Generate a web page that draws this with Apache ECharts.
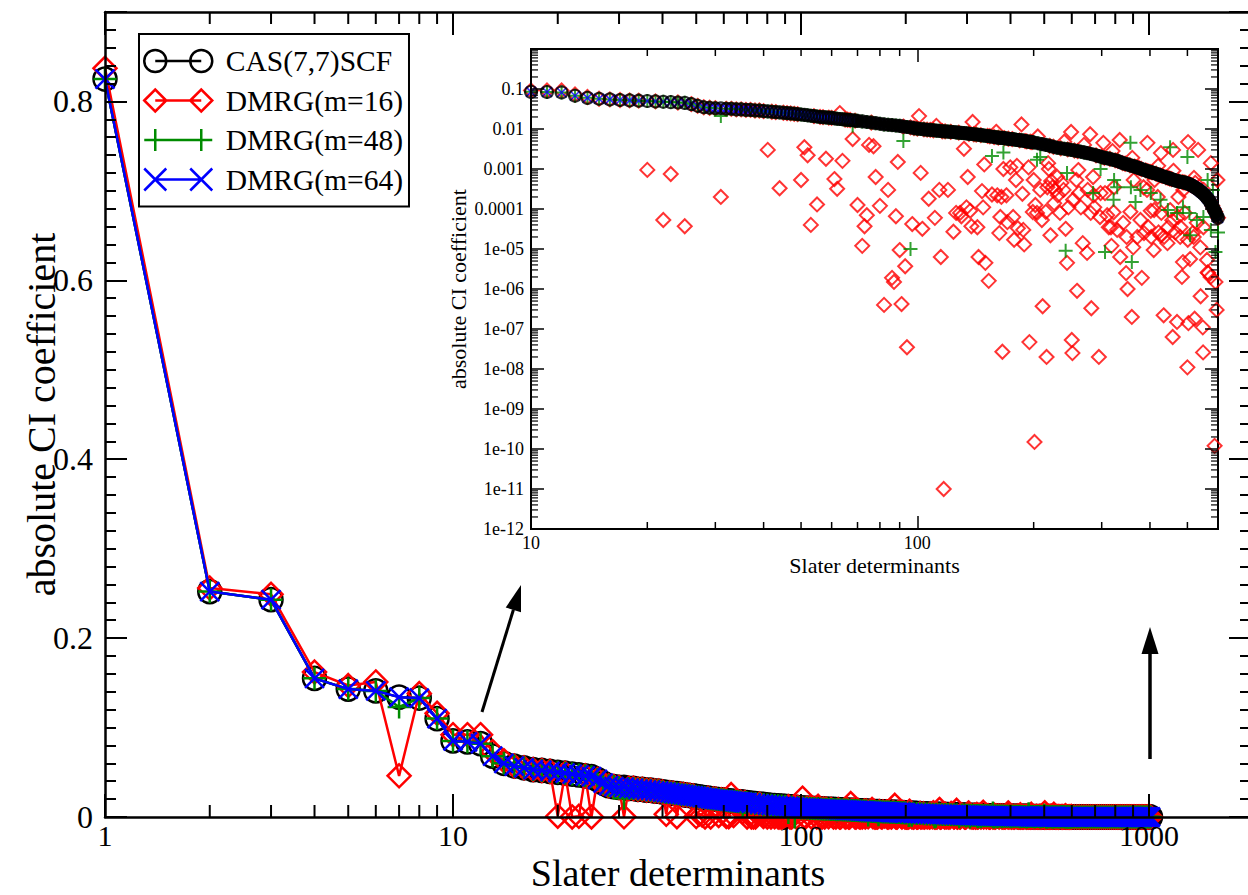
<!DOCTYPE html>
<html><head><meta charset="utf-8">
<script src="https://cdn.jsdelivr.net/npm/echarts@6.0.0/dist/echarts.min.js"></script>
<style>html,body{margin:0;padding:0;background:#fff;}#chart{width:1248px;height:895px;}</style>
</head><body><div id="chart"></div>
<script>
// ---------------- data ----------------
const casX = [1,2,3,4,5,6,7,8,9,10,11,12,13,14,15,16,17,18,19,20,21,22,23,24,25,26,27,28,29,30,31,32,33,34,35,36,37,38,39,40,
41,42,43,44,45,46,47,48,49,50,51,52,53,54,55,56,57,58,59,60,61,62,63,64,65,66,67,68,69,70,
72,74,76,78,80,82,84,86,88,90,92,94,96,98,100,
102,104,106,108,110,112,114,116,118,120,122,124,126,128,130,132,134,136,138,140,
142,144,146,148,150,152,154,156,158,160,162,164,166,168,170,172,174,176,178,180,
182,184,186,188,190,192,194,196,198,200,
205,210,215,220,225,230,235,240,245,250,255,260,265,270,275,280,285,290,295,300,
305,310,315,320,325,330,335,340,345,350,355,360,365,370,375,380,385,390,395,400,
405,410,415,420,425,430,435,440,445,450,455,460,465,470,475,480,485,490,495,500,
505,510,515,520,525,530,535,540,545,550,555,560,565,570,575,580,585,590,595,600,
610,620,630,640,650,660,670,680,690,700,710,720,730,740,750,760,770,780,790,800,
810,820,830,840,850,860,870,880,890,900,910,920,930,940,950,960,970,980,990,1000,1010];
const casY = [0.825,0.252,0.243,0.155,0.143,0.141,0.134,0.133,0.110,0.085,0.084,0.082,0.068,0.060,0.057,0.055,0.053,0.052,0.051,0.050,
0.049,0.048,0.047,0.046,0.045,0.042,0.038,0.035,0.034,0.033,0.033,0.032,0.032,0.031,0.031,0.030,0.030,0.029,0.029,0.028,
0.0275,0.027,0.0265,0.026,0.0255,0.025,0.0245,0.024,0.0235,0.023,0.0225,0.022,0.0215,0.021,0.0205,0.020,0.0198,0.0195,0.0192,0.019,
0.0185,0.018,0.0178,0.0175,0.0172,0.017,0.0168,0.0165,0.0162,0.016,
0.0155,0.015,0.0145,0.014,0.0135,0.013,0.0128,0.0125,0.0122,0.012,0.0115,0.0112,0.011,0.0105,0.0102,
0.0100,0.0098,0.0096,0.0095,0.0093,0.0091,0.0090,0.0088,0.0087,0.0086,0.0085,0.0084,0.0082,0.0081,0.0080,0.0079,0.0078,0.0076,0.0075,0.0074,
0.0073,0.0072,0.0070,0.0069,0.0068,0.0067,0.0066,0.0064,0.0063,0.0062,0.0061,0.0060,0.0060,0.0059,0.0058,0.0057,0.0056,0.0056,0.0055,0.0054,
0.0053,0.0052,0.0052,0.0051,0.0050,0.0049,0.0048,0.0048,0.0047,0.0046,
0.0044,0.0042,0.0040,0.0038,0.0036,0.0034,0.0033,0.0032,0.0031,0.0030,
0.0029,0.0028,0.0027,0.0026,0.0025,0.0024,0.0023,0.0022,0.0021,0.0020,
0.0019,0.00185,0.0018,0.0017,0.00165,0.0016,0.0015,0.0014,0.00135,0.0013,
0.00124,0.0012,0.00115,0.0011,0.00106,0.0010,0.00096,0.00092,0.00088,0.00085,
0.00082,0.00079,0.00076,0.00073,0.00070,0.00067,0.00064,0.00062,0.00060,0.00058,
0.00056,0.00054,0.00052,0.00050,0.00049,0.00048,0.00047,0.00046,0.00045,0.00044,
0.00042,0.00040,0.00038,0.00036,0.00034,0.00032,0.00030,0.00028,0.00026,0.00024,
0.00022,0.00020,0.00018,0.00016,0.00014,0.00012,0.00010,0.000085,0.000072,0.00006,
5.2e-5,4.6e-5,4.1e-5,3.7e-5,3.3e-5,3.0e-5,2.7e-5,2.4e-5,2.2e-5,2.0e-5,
1.8e-5,1.65e-5,1.5e-5,1.35e-5,1.2e-5,1.1e-5,1.0e-5,9e-6,8.2e-6,7.5e-6,
6.8e-6,6.2e-6,5.6e-6,5.1e-6,4.6e-6,4.2e-6,3.8e-6,3.4e-6,3.1e-6,2.8e-6,
2.5e-6,2.2e-6,2.0e-6,1.8e-6,1.6e-6,1.4e-6,1.2e-6,1.0e-6,8e-7,6e-7,4e-7];

// DMRG(m=16): points that differ from CAS [determinant, |coefficient|]
const dmrg16Dev = [[1,0.837],[2,0.256],[3,0.249],[4,0.162],[5,0.147],[6,0.151],[7,0.046],[8,0.138],[9,0.116],[10,0.092],[11,0.092],[12,0.092],[13,0.073],[14,0.063],
[20,9.5e-4],[22,5.3e-5],[23,7.5e-4],[25,3.7e-5],[31,2.0e-4],
[41,3.0e-3],[44,3.3e-4],[50,5.3e-4],[51,3.5e-3],[52,2.2e-3],[53,4.0e-5],[55,1.3e-4],[58,1.8e-3],[61,5.6e-4],[62,3.2e-4],[63,0.025],[64,1.6e-3],[68,5.6e-3],[70,1.26e-4],[72,1.2e-5],[73,3.7e-5],[74,7.0e-5],[75,4.0e-3],[77,3.7e-3],[78,6.3e-4],[80,1.2e-4],[82,4.0e-7],[84,3.0e-4],[86,1.9e-6],[87,1.5e-6],[88,6.6e-5],[89,1.5e-3],[90,9.4e-6],[91,4.2e-7],[93,3.7e-6],[94,3.5e-8],[97,4.2e-5],
[101,0.021],[102,8.0e-4],[103,3.2e-5],[107,1.8e-4],[111,6.0e-5],[112,0.012],[114,3.0e-4],[115,6.3e-6],[117,1.0e-11],[120,3.0e-4],[124,2.7e-5],[126,8.0e-5],[129,8.0e-5],[130,6.6e-5],[132,3.2e-3],[134,1.1e-4],[135,6.3e-4],[137,9.0e-5],[138,3.7e-5],[139,0.015],[143,3.5e-5],[144,6.3e-6],[147,2.8e-4],[148,1.1e-4],[149,1.3e-3],[150,4.5e-6],[153,1.6e-6],[156,2.3e-4],[160,0.0085],[161,2.2e-4],[163,2.5e-5],[164,6.3e-5],[165,2.0e-4],[166,2.7e-8],[167,1.0e-3],[170,2.2e-4],[171,4.7e-5],[174,1.1e-3],[177,6.3e-5],[178,1.7e-5],[180,5.3e-4],[181,1.2e-3],[182,3.3e-5],[186,0.013],[187,2.4e-4],[188,3.0e-5],[189,1.3e-5],[194,1.1e-3],[195,4.7e-8],[199,8.4e-5],
[200,5.3e-4],[201,1.5e-10],[202,1.26e-4],[204,8.0e-5],[205,0.0065],[208,3.0e-4],[210,5.3e-5],[211,3.7e-7],[215,8.5e-5],[216,2.0e-8],[217,3.5e-4],[218,1.4e-3],[219,1.0e-3],[221,2.2e-5],[222,5.0e-4],[224,3.5e-4],[226,1.4e-4],[227,3.0e-4],[230,6.3e-4],[231,2.2e-4],[234,8.0e-5],[236,4.5e-4],[239,3.0e-4],[240,0.0048],[242,3.2e-5],[244,4.5e-6],[246,1.1e-4],[250,8.4e-3],[251,5.3e-8],[252,2.5e-8],[253,1.7e-4],[258,5.3e-4],[259,9.0e-7],[261,9.4e-4],[262,2.5e-4],[265,1.1e-4],[268,1.4e-5],[270,0.004],[275,8.0e-6],[276,3.0e-4],[280,7.4e-3],[281,8.0e-5],[282,3.3e-7],[285,6.3e-4],[286,2.2e-4],[287,1.1e-4],[295,2.0e-8],[297,6.3e-5],[298,2.5e-4],
[303,4.5e-3],[306,2.5e-4],[310,7.0e-5],[313,3.5e-5],[317,3.5e-5],[318,1.2e-5],[320,0.0028],[322,8.3e-5],[323,3.5e-4],[329,3.0e-5],[334,5.3e-3],[335,6.3e-6],[341,4.5e-5],[347,2.5e-6],[348,2.0e-5],[350,1.0e-6],[356,8.5e-5],[359,2.0e-7],[360,0.0019],[362,1.1e-5],[363,5.3e-4],[371,2.0e-5],[378,5.3e-5],[381,1.9e-6],[385,3.5e-4],[386,2.5e-5],[393,3.0e-4],[394,4.5e-3],[396,3.5e-5],
[402,9.0e-5],[403,2.0e-5],[409,9.4e-6],[410,9.4e-5],[411,5.3e-4],[419,2.0e-4],[420,0.0012],[421,2.6e-5],[426,2.2e-5],[427,2.5e-3],[428,8.0e-5],[434,2.2e-7],[435,2.0e-5],[444,1.4e-5],[446,3.5e-5],[451,9.4e-5],[457,5.2e-5],[458,6.3e-8],[459,3.0e-3],[460,0.0009],[465,2.6e-5],[470,1.5e-7],[473,6.3e-5],[474,2.0e-4],[479,2.0e-5],[480,3.5e-5],[484,2.0e-6],[487,4.7e-6],[488,3.0e-4],[492,8.0e-5],
[500,1.1e-8],[501,1.7e-5],[502,4.7e-3],[503,1.4e-7],[508,5.6e-6],[516,2.5e-5],[519,2.0e-5],[520,0.0006],[522,1.8e-7],[524,4.5e-4],[529,4.5e-5],[533,3.0e-3],[540,1.1e-5],[541,6.6e-7],[548,1.1e-7],[549,2.6e-8],[550,3.5e-5],[551,3.0e-4],[562,5.3e-6],[564,2.6e-6],[566,2.5e-6],[574,2.0e-6],[575,1.4e-3],[588,1.2e-10],[591,1.5e-6],[595,3.0e-7],[598,5.3e-4]];

// DMRG(m=48): points that differ from CAS
const dmrg48Dev = [[7,0.123],[31,0.021],[68,0.012],[92,5.0e-3],[96,1.0e-5],[156,2.1e-3],[167,2.6e-3],[204,1.7e-3],[208,2.0e-3],[242,9.0e-6],[244,8.0e-4],[285,2.5e-4],[298,1.0e-3],
[306,8.4e-6],[322,1.7e-4],[323,5.3e-4],[329,3.5e-4],[356,4.5e-3],[357,3.5e-4],[359,4.7e-6],[367,1.5e-4],[378,3.0e-4],[402,2.5e-4],[426,1.7e-4],[445,9.4e-5],[451,3.5e-3],[470,8.0e-5],[487,1.1e-4],
[500,2.0e-3],[506,8.0e-5],[508,2.2e-5],[529,5.3e-5],[550,6.3e-5],[564,5.3e-4],[575,3.0e-5],[582,3.0e-4],[591,8.4e-6],[600,2.6e-5]];

const seriesNames = ['CAS(7,7)SCF','DMRG(m=16)','DMRG(m=48)','DMRG(m=64)'];
const mainXTicks = [1,10,100,1000];
const mainXLabels = ['1','10','100','1000'];
const insetXTicks = [10,100];
const insetXLabels = ['10','100'];
const insetYTicks = [1e-12,1e-11,1e-10,1e-9,1e-8,1e-7,1e-6,1e-5,1e-4,1e-3,1e-2,1e-1,1];
const insetYLabels = ['1e-12','1e-11','1e-10','1e-09','1e-08','1e-07','1e-06','1e-05','0.0001','0.001','0.01','0.1',''];
const minorMult = [2,3,4,5,6,7,8,9];

// ---------------- styling / layout ----------------
const FONT = 'Liberation Serif, Times New Roman, serif';
const COLORS = ['#000000','#ff0000','#008b00','#0000ff'];
const MAIN = {xMin:1, xMax:1964, yMin:0, yMax:0.9};
const INSET = {xMin:10, xMax:600, yMin:1e-12, yMax:1};
const INSET_SOLID_FROM = 70;   // where the overlapping black circles merge into a solid band
const SYM = ['circle','diamond','path://M0,10L20,10M10,0L10,20','path://M0,0L20,20M0,20L20,0'];
const LEGEND_ICONS = [
  'path://M0,11A11,11 0 1 1 22,11A11,11 0 1 1 0,11ZM11,11L57,11M46,11A11,11 0 1 1 68,11A11,11 0 1 1 46,11Z',
  'path://M0,11L11,0L22,11L11,22ZM11,11L57,11M46,11L57,0L68,11L57,22Z',
  'path://M0,11L68,11M11,0L11,22M57,0L57,22',
  'path://M0,0L22,22M0,22L22,0M11,11L57,11M46,0L68,22M46,22L68,0'
];

// ---------------- build series data ----------------
const casPts = casX.map((x, i) => [x, casY[i]]);
function withDev(dev) {
  const s = new Set(dev.map(d => d[0]));
  return casPts.filter(p => !s.has(p[0])).concat(dev.map(d => [d[0], d[1]])).sort((a, b) => a[0] - b[0]);
}
const ptsBySeries = [casPts, withDev(dmrg16Dev), withDev(dmrg48Dev), casPts.slice()];
const inInset = p => p[0] >= INSET.xMin && p[0] <= INSET.xMax;

function labelOf(ticks, labels) {
  return v => { const i = ticks.findIndex(t => Math.abs(t - v) / t < 1e-6); return i >= 0 ? labels[i] : ''; };
}
function minorOf(decades, max) {
  const out = [];
  decades.forEach(d => minorMult.forEach(m => { if (d * m < max) out.push(d * m); }));
  return out;
}
const mainXMinor = minorOf([1,10,100,1000], MAIN.xMax);
const insetXMinor = minorOf([10,100], INSET.xMax);
const insetYMinor = minorOf(insetYTicks.slice(0, 12), INSET.yMax);

const mainSizes = [23, 23, 23, 19];
const insetSizes = [12, 14, 14, 10];
const insetBorder = [2, 2, 2, 1.6];
const mainZ = [2, 3, 4, 5];
const insetZ = [6, 3, 4, 5];

const series = [];
for (let i = 0; i < 4; i++) {
  series.push({
    type: 'line', name: seriesNames[i], xAxisIndex: 0, yAxisIndex: 0,
    data: ptsBySeries[i], symbol: SYM[i], symbolSize: mainSizes[i],
    showSymbol: true, showAllSymbol: true, clip: false, silent: true, z: mainZ[i],
    lineStyle: {color: COLORS[i], width: 2.5},
    itemStyle: {color: 'rgba(0,0,0,0)', borderColor: COLORS[i], borderWidth: 2.5},
    emphasis: {disabled: true}, animation: false
  });
}
for (let i = 0; i < 4; i++) {
  let data = ptsBySeries[i].filter(inInset);
  if (i === 0) {
    data = data.map(p => p[0] >= INSET_SOLID_FROM ? {value: p, itemStyle: {color: '#000'}} : p);
  }
  series.push({
    type: 'scatter', name: seriesNames[i], xAxisIndex: 2, yAxisIndex: 2,
    data: data, symbol: SYM[i], symbolSize: insetSizes[i],
    clip: false, silent: true, z: insetZ[i],
    itemStyle: {color: 'rgba(0,0,0,0)', borderColor: COLORS[i], borderWidth: insetBorder[i]},
    emphasis: {disabled: true}, animation: false
  });
}

// ticks drawn through the axes' own scales (api.coord)
function xTicks(xIdx, yIdx, values, yLo, yHi, len, lw) {
  return {
    type: 'custom', coordinateSystem: 'cartesian2d', xAxisIndex: xIdx, yAxisIndex: yIdx,
    silent: true, z: 20, clip: false, animation: false,
    data: values.map(v => [v, yLo]),
    renderItem: (params, api) => {
      const v = api.value(0);
      const b = api.coord([v, yLo]), t = api.coord([v, yHi]);
      return {type: 'group', children: [
        {type: 'line', shape: {x1: b[0], y1: b[1], x2: b[0], y2: b[1] - len}, style: {stroke: '#000', lineWidth: lw}},
        {type: 'line', shape: {x1: t[0], y1: t[1], x2: t[0], y2: t[1] + len}, style: {stroke: '#000', lineWidth: lw}}
      ]};
    }
  };
}
function yTicks(xIdx, yIdx, values, xLo, xHi, len, lw, labels) {
  return {
    type: 'custom', coordinateSystem: 'cartesian2d', xAxisIndex: xIdx, yAxisIndex: yIdx,
    silent: true, z: 20, clip: false, animation: false,
    data: values.map(v => [xLo, v]),
    renderItem: (params, api) => {
      const v = api.value(1);
      const l = api.coord([xLo, v]), r = api.coord([xHi, v]);
      const ch = [
        {type: 'line', shape: {x1: l[0], y1: l[1], x2: l[0] + len, y2: l[1]}, style: {stroke: '#000', lineWidth: lw}},
        {type: 'line', shape: {x1: r[0], y1: r[1], x2: r[0] - len, y2: r[1]}, style: {stroke: '#000', lineWidth: lw}}
      ];
      if (labels) {
        ch.push({type: 'text', x: l[0] - 7, y: l[1], style: {
          text: labels[params.dataIndex], fill: '#000', fontSize: 18, fontFamily: FONT,
          align: 'right', verticalAlign: 'middle', textAlign: 'right', textVerticalAlign: 'middle'}});
      }
      return {type: 'group', children: ch};
    }
  };
}
series.push(xTicks(0, 0, mainXMinor, MAIN.yMin, MAIN.yMax, 12, 2));
series.push(xTicks(2, 2, insetXMinor, INSET.yMin, INSET.yMax, 7, 1.5));
series.push(yTicks(2, 2, insetYTicks, INSET.xMin, INSET.xMax, 13, 1.5, insetYLabels));
series.push(yTicks(2, 2, insetYMinor, INSET.xMin, INSET.xMax, 7, 1.2, null));

const axisLineMain = {show: true, onZero: false, lineStyle: {color: '#000', width: 2.5}};
const axisLineInset = {show: true, onZero: false, lineStyle: {color: '#000', width: 2}};

const option = {
  animation: false,
  backgroundColor: '#fff',
  grid: [
    {left: 105, right: -3, top: 12, bottom: 78, show: false, containLabel: false, outerBoundsMode: 'none'},
    {left: 531, right: 30, top: 49, bottom: 366, show: true, backgroundColor: '#fff', borderColor: '#000', borderWidth: 2, containLabel: false, outerBoundsMode: 'none', z: 1}
  ],
  xAxis: [
    {type: 'log', logBase: 10, gridIndex: 0, min: MAIN.xMin, max: MAIN.xMax, position: 'bottom', z: 10,
      name: 'Slater determinants', nameLocation: 'middle', nameGap: 37, nameMoveOverlap: false,
      nameTextStyle: {fontFamily: FONT, fontSize: 38, color: '#000', lineHeight: 38},
      axisLine: axisLineMain,
      axisTick: {show: true, inside: true, length: 23, lineStyle: {color: '#000', width: 2}},
      axisLabel: {show: true, margin: 3, fontFamily: FONT, fontSize: 30, lineHeight: 30, color: '#000', formatter: labelOf(mainXTicks, mainXLabels)},
      splitLine: {show: false}},
    {type: 'log', logBase: 10, gridIndex: 0, min: MAIN.xMin, max: MAIN.xMax, position: 'top', z: 10,
      axisLine: axisLineMain,
      axisTick: {show: true, inside: true, length: 23, lineStyle: {color: '#000', width: 2}},
      axisLabel: {show: false}, splitLine: {show: false}},
    {type: 'log', logBase: 10, gridIndex: 1, min: INSET.xMin, max: INSET.xMax, position: 'bottom', z: 10,
      name: 'Slater determinants', nameLocation: 'middle', nameGap: 25, nameMoveOverlap: false,
      nameTextStyle: {fontFamily: FONT, fontSize: 22, color: '#000', lineHeight: 22},
      axisLine: axisLineInset,
      axisTick: {show: true, inside: true, length: 13, lineStyle: {color: '#000', width: 1.5}},
      axisLabel: {show: true, margin: 5, fontFamily: FONT, fontSize: 18, lineHeight: 18, color: '#000', formatter: labelOf(insetXTicks, insetXLabels)},
      splitLine: {show: false}},
    {type: 'log', logBase: 10, gridIndex: 1, min: INSET.xMin, max: INSET.xMax, position: 'top', z: 10,
      axisLine: axisLineInset,
      axisTick: {show: true, inside: true, length: 13, lineStyle: {color: '#000', width: 1.5}},
      axisLabel: {show: false}, splitLine: {show: false}}
  ],
  yAxis: [
    {type: 'value', gridIndex: 0, min: MAIN.yMin, max: MAIN.yMax, interval: 0.2, position: 'left', z: 10,
      name: 'absolute CI coefficient', nameLocation: 'middle', nameGap: 46, nameRotate: 90, nameMoveOverlap: false,
      nameTextStyle: {fontFamily: FONT, fontSize: 40, color: '#000', lineHeight: 36},
      axisLine: axisLineMain,
      axisTick: {show: true, inside: true, length: 22, lineStyle: {color: '#000', width: 2}},
      minorTick: {show: true, splitNumber: 10, length: 11, lineStyle: {color: '#000', width: 2}},
      axisLabel: {show: true, margin: 12, fontFamily: FONT, fontSize: 32, color: '#000', showMaxLabel: false},
      splitLine: {show: false}, minorSplitLine: {show: false}},
    {type: 'value', gridIndex: 0, min: MAIN.yMin, max: MAIN.yMax, interval: 0.2, position: 'right', z: 10,
      axisLine: axisLineMain,
      axisTick: {show: true, inside: true, length: 22, lineStyle: {color: '#000', width: 2}},
      minorTick: {show: true, splitNumber: 10, length: 11, lineStyle: {color: '#000', width: 2}},
      axisLabel: {show: false}, splitLine: {show: false}, minorSplitLine: {show: false}},
    {type: 'log', logBase: 10, gridIndex: 1, min: INSET.yMin, max: INSET.yMax, position: 'left', z: 10,
      name: 'absolute CI coefficient', nameLocation: 'middle', nameGap: 62, nameRotate: 90, nameMoveOverlap: false,
      nameTextStyle: {fontFamily: FONT, fontSize: 22, color: '#000'},
      axisLine: axisLineInset, axisTick: {show: false}, axisLabel: {show: false}, splitLine: {show: false}}
  ],
  legend: {
    show: true, orient: 'vertical', left: 139, top: 34, padding: [12, 6, 12, 4],
    itemGap: 9.5, itemWidth: 85, itemHeight: 22, symbolKeepAspect: true, selectedMode: false,
    backgroundColor: '#fff', borderColor: '#000', borderWidth: 2, borderRadius: 0, z: 10,
    textStyle: {fontFamily: FONT, fontSize: 29.5, color: '#000', lineHeight: 29.5},
    data: seriesNames.map((n, i) => ({name: n, icon: LEGEND_ICONS[i],
      itemStyle: {color: 'rgba(0,0,0,0)', borderColor: COLORS[i], borderWidth: 2.5}}))
  },
  graphic: [
    {type: 'line', z: 30, shape: {x1: 482, y1: 712, x2: 513.4, y2: 609.8}, style: {stroke: '#000', lineWidth: 3}},
    {type: 'polygon', z: 30, shape: {points: [[521, 585], [521.0, 612.2], [505.7, 607.5]]}, style: {fill: '#000'}},
    {type: 'line', z: 30, shape: {x1: 1150, y1: 759, x2: 1150, y2: 652}, style: {stroke: '#000', lineWidth: 3.5}},
    {type: 'polygon', z: 30, shape: {points: [[1150, 627], [1158.5, 654], [1141.5, 654]]}, style: {fill: '#000'}}
  ],
  series: series
};

const chart = echarts.init(document.getElementById('chart'), null, {renderer: 'svg', width: 1248, height: 895});
chart.setOption(option);
</script></body></html>
